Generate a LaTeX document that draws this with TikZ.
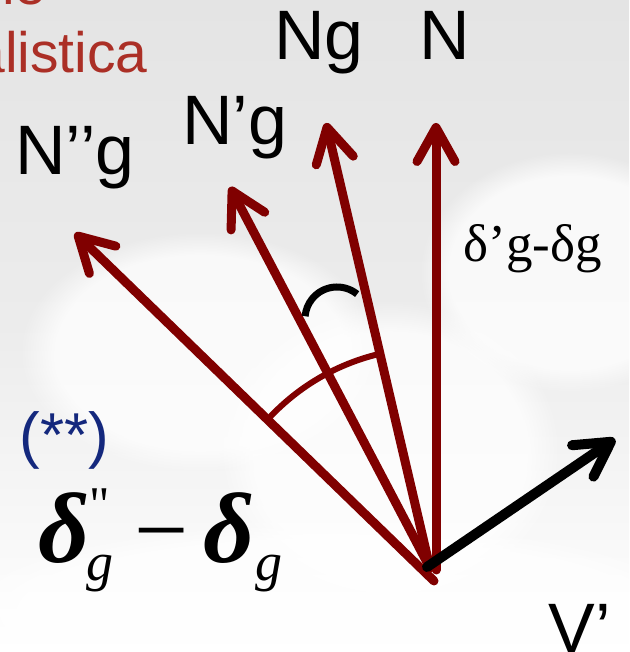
\documentclass[tikz,border=0pt]{standalone}
\usepackage{fontspec}
\setmainfont{Liberation Sans}
\newfontfamily\timesfont{Liberation Serif}
\usetikzlibrary{arrows.meta,calc,fadings}
\definecolor{vecred}{RGB}{128,0,0}
\definecolor{titlered}{RGB}{171,47,38}
\definecolor{starblue}{RGB}{20,40,125}
\definecolor{cloudgray}{RGB}{228,228,228}

\begin{document}
\begin{tikzpicture}[
  x=0.5pt,y=0.5pt,
  lbl/.style={inner sep=0pt,anchor=base west,font=\fontsize{35}{42}\selectfont},
  ttl/.style={inner sep=0pt,anchor=base east,text=titlered,font=\fontsize{28.5}{34}\selectfont},
  vec/.style={draw=vecred,line width=4.5pt,line cap=round,
              -{Straight Barb[length=17pt,width=19pt,round]}},
  vel/.style={vec,draw=black,line width=5pt},
  angarc/.style={draw=vecred,line width=3pt},
  cloud/.style={fill=white,fill opacity=.75,path fading=circle with fuzzy edge 20 percent},
  bigd/.style={inner sep=0pt,anchor=base west,font=\timesfont\bfseries\itshape\fontsize{50}{60}\selectfont},
  subg/.style={inner sep=0pt,anchor=base west,font=\timesfont\itshape\fontsize{27}{32}\selectfont}
]
% background
\clip (0,0) rectangle (629,652);
\shade[top color=cloudgray,bottom color=white,middle color=cloudgray!70!white] (0,0) rectangle (629,652);
\fill[cloud] (390,200) ellipse (170 and 150);
\fill[cloud] (570,380) ellipse (150 and 120);
\fill[cloud] (200,300) ellipse (180 and 120);
\fill[cloud] (330,40) ellipse (380 and 90);

% title (cut by the frame)
\node[ttl] (ttlA) at (47,647) {le};
\node[ttl] (ttlB) at (148,579) {balistica};

% vectors
\coordinate (O) at (430,84);
\coordinate (Obot) at (434,71);
\coordinate (Oright) at (436,82);
\coordinate (Ov) at (427,85);
\coordinate (tipN) at (436,529);
\coordinate (tipNg) at (326,529);
\coordinate (tipNpg) at (230,465);
\coordinate (tipNppg) at (75,419);
\coordinate (tipV) at (615,213);
\draw[vec] (Oright) -- (tipN);
\draw[vec] (O) -- (tipNg);
\draw[vec] (O) -- (tipNpg);
\draw[vec] (Obot) -- (tipNppg);
\draw[vel] (Ov) -- (tipV);

% angles
\draw[angarc] ($(O)+(103.2:110pt)$) arc[start angle=103.2,end angle=136.7,radius=110pt];
\coordinate (Cs) at (337,333);
\draw[line width=3.5pt] ($(Cs)+(51:16pt)$) arc[start angle=51,end angle=175,radius=16pt];

% labels
\node[lbl] (lblN) at (419,592) {N};
\node[lbl] (lblNg) at (274,592) {Ng};
\node[lbl] (lblNpg) at (182,507) {N’g};
\node[lbl] (lblNppg) at (15,477) {N’’g};
\node[lbl] (lblV) at (548,-1) {V’};
\node[inner sep=0pt,anchor=base west,font=\timesfont\fontsize{26.5}{32}\selectfont]
  (lblDiff) at (463,390) {δ’g-δg};
\node[inner sep=0pt,anchor=base west,text=starblue,font=\fontsize{31}{37}\selectfont]
  (stars) at (19,195) {(**)};

% delta'' - delta
\node[bigd] (dA) at (38,89) {δ};
\node[inner sep=0pt,anchor=north,font=\timesfont\fontsize{25}{30}\selectfont] (dpp) at (100,164) {"};
\node[subg] (gA) at (86,71) {g};
\node[inner sep=0pt,anchor=base west,font=\timesfont\fontsize{48}{58}\selectfont] (mns) at (134,89) {−};
\node[bigd] (dB) at (203,89) {δ};
\node[subg] (gB) at (255,71) {g};
\end{tikzpicture}
\end{document}
